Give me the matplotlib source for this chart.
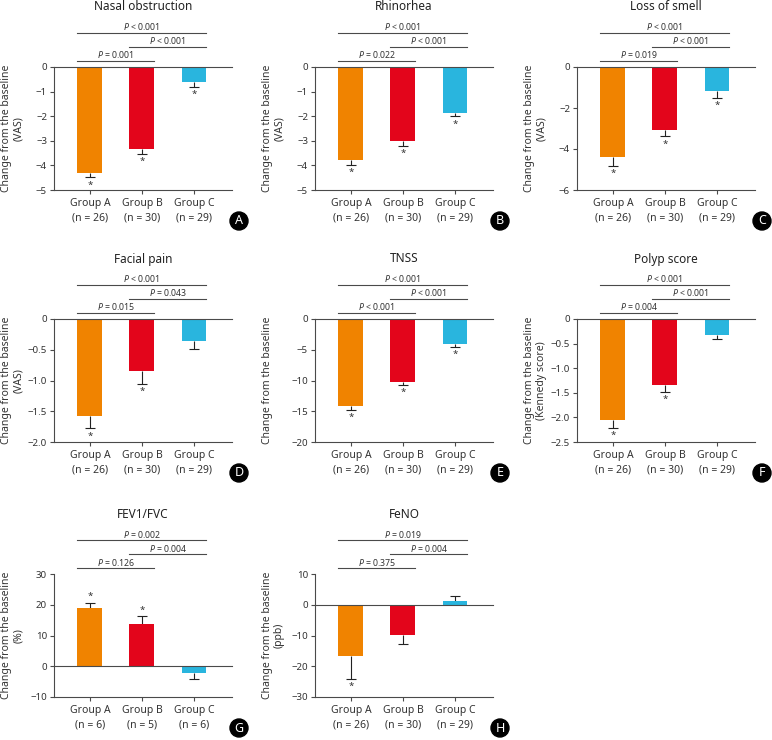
import matplotlib

matplotlib.use("Agg")

import matplotlib.pyplot as plt
import numpy as np
from matplotlib import transforms
from matplotlib.patches import Ellipse

plt.rcParams["font.family"] = ["Noto Sans", "DejaVu Sans"]
plt.rcParams["mathtext.fontset"] = "custom"
plt.rcParams["mathtext.rm"] = "Noto Sans"
plt.rcParams["mathtext.it"] = "Noto Sans:italic"

# ---- data ----
GROUPS = ["Group A", "Group B", "Group C"]
GROUP_COLORS = ["#F08300", "#E3051B", "#29B5DE"]
N_MAIN = [26, 30, 29]
N_FEV = [6, 5, 6]

TITLES = [
    "Nasal obstruction", "Rhinorhea", "Loss of smell",
    "Facial pain", "TNSS", "Polyp score",
    "FEV1/FVC", "FeNO",
]
LETTERS = ["A", "B", "C", "D", "E", "F", "G", "H"]
UNITS = ["VAS", "VAS", "VAS", "VAS", None, "Kennedy score", "%", "ppb"]

MEANS = [
    [-4.32, -3.34, -0.63],
    [-3.78, -2.99, -1.85],
    [-4.39, -3.06, -1.15],
    [-1.57, -0.845, -0.35],
    [-14.1, -10.24, -4.12],
    [-2.05, -1.34, -0.325],
    [18.97, 13.7, -2.3],
    [-16.7, -9.8, 1.3],
]
SEMS = [
    [0.17, 0.19, 0.19],
    [0.19, 0.21, 0.16],
    [0.44, 0.33, 0.34],
    [0.21, 0.205, 0.14],
    [0.64, 0.55, 0.43],
    [0.17, 0.14, 0.085],
    [1.63, 2.5, 1.95],
    [7.3, 3.1, 1.5],
]
STARS = [
    [1, 1, 1], [1, 1, 1], [1, 1, 1],
    [1, 1, 0], [1, 1, 1], [1, 1, 0],
    [1, 1, 0], [1, 0, 0],
]
# comparisons: A vs B, B vs C, A vs C
P_TEXTS = [
    ["= 0.001", "< 0.001", "< 0.001"],
    ["= 0.022", "< 0.001", "< 0.001"],
    ["= 0.019", "< 0.001", "< 0.001"],
    ["= 0.015", "= 0.043", "< 0.001"],
    ["< 0.001", "< 0.001", "< 0.001"],
    ["= 0.004", "< 0.001", "< 0.001"],
    ["= 0.126", "= 0.004", "= 0.002"],
    ["= 0.375", "= 0.004", "= 0.019"],
]
YLIMS = [
    (-5, 0), (-5, 0), (-6, 0),
    (-2, 0), (-20, 0), (-2.5, 0),
    (-10, 30), (-30, 10),
]
YTICKS = [
    [0, -1, -2, -3, -4, -5],
    [0, -1, -2, -3, -4, -5],
    [0, -2, -4, -6],
    [0, -0.5, -1.0, -1.5, -2.0],
    [0, -5, -10, -15, -20],
    [0, -0.5, -1.0, -1.5, -2.0, -2.5],
    [30, 20, 10, 0, -10],
    [10, 0, -10, -20, -30],
]
YTICK_LABELS = [
    ["0", "−1", "−2", "−3", "−4", "−5"],
    ["0", "−1", "−2", "−3", "−4", "−5"],
    ["0", "−2", "−4", "−6"],
    ["0", "−0.5", "−1.0", "−1.5", "−2.0"],
    ["0", "−5", "−10", "−15", "−20"],
    ["0", "−0.5", "−1.0", "−1.5", "−2.0", "−2.5"],
    ["30", "20", "10", "0", "−10"],
    ["10", "0", "−10", "−20", "−30"],
]

# ---- layout (pixels) ----
FIG_W, FIG_H = 772, 740
COL_LEFT = [54, 315, 577]
ROW_TOP = [67, 319, 574]
AX_W, AX_H = 178, 123
BAR_W = 0.48
CAP = 0.1
LINE = "#4a4a4a"


def px_offset(ax, transform, dy):
    return transforms.offset_copy(transform, fig=ax.figure, y=dy, units="dots")


def draw_panel(fig, index):
    row, col = divmod(index, 3)
    left = COL_LEFT[col] / FIG_W
    bottom = 1 - (ROW_TOP[row] + AX_H) / FIG_H
    ax = fig.add_axes([left, bottom, AX_W / FIG_W, AX_H / FIG_H])

    x = np.arange(len(GROUPS))
    means = np.array(MEANS[index])
    sems = np.array(SEMS[index])
    ends = means + np.sign(means) * sems

    ax.bar(x, means, width=BAR_W, color=GROUP_COLORS, zorder=2)
    ax.vlines(x, means, ends, color="#222222", lw=0.8, zorder=1)
    ax.hlines(ends, x - CAP, x + CAP, color="#222222", lw=0.8, zorder=1)

    for xi, end, mean, star in zip(x, ends, means, STARS[index]):
        if not star:
            continue
        up = mean > 0
        ax.annotate(
            "*",
            xy=(xi, end),
            xytext=(0, 2 if up else -3),
            textcoords="offset pixels",
            ha="center",
            va="bottom" if up else "top",
            fontsize=7,
            color="#333333",
        )

    ax.axhline(0, color=LINE, lw=0.8, zorder=3, clip_on=False)
    ax.set_xlim(-0.69, 2.73)
    ax.set_ylim(*YLIMS[index])
    ax.set_yticks(YTICKS[index], labels=YTICK_LABELS[index])

    counts = N_FEV if index == 6 else N_MAIN
    ax.set_xticks(
        x, labels=[f"{g}\n(n = {n})" for g, n in zip(GROUPS, counts)]
    )
    ax.tick_params(
        axis="both", direction="out", length=3, width=0.8, color=LINE,
        labelcolor="#333333", labelsize=7, pad=2,
    )
    ax.tick_params(axis="x", labelsize=7.5, pad=3)
    for label in ax.get_xticklabels():
        label.set_linespacing(1.45)

    for side in ("top", "right"):
        ax.spines[side].set_visible(False)
    for side in ("left", "bottom"):
        ax.spines[side].set_color(LINE)
        ax.spines[side].set_linewidth(0.8)

    unit = UNITS[index]
    ylabel = "Change from the baseline"
    if unit is not None:
        ylabel += f"\n({unit})"
    ax.set_ylabel(ylabel, fontsize=7.5, color="#333333", linespacing=1.15)
    ax.yaxis.set_label_coords(-0.17 if unit else -0.235, 0.5)

    ax.text(
        0.5, 1, TITLES[index],
        transform=px_offset(ax, ax.transAxes, 60),
        ha="center", va="center", fontsize=8.5, color="#222222",
    )

    blend = transforms.blended_transform_factory(ax.transData, ax.transAxes)
    pairs = [(0, 1, 6), (1, 2, 20), (0, 2, 34)]
    for (a, b, dy), p_text in zip(pairs, P_TEXTS[index]):
        x0, x1 = a - BAR_W / 2, b + BAR_W / 2
        ax.plot(
            [x0, x1], [1, 1], color=LINE, lw=0.8,
            transform=px_offset(ax, blend, dy), clip_on=False,
        )
        ax.text(
            (x0 + x1) / 2, 1, f"$P$ {p_text}",
            transform=px_offset(ax, blend, dy + 6),
            ha="center", va="center", fontsize=6.3, color="#333333",
        )

    cx = (COL_LEFT[col] + AX_W + 7) / FIG_W
    cy = 1 - (ROW_TOP[row] + AX_H + 31) / FIG_H
    fig.add_artist(
        Ellipse((cx, cy), 18 / FIG_W, 18 / FIG_H,
                transform=fig.transFigure, color="black")
    )
    fig.text(cx, cy, LETTERS[index], ha="center", va="center",
             color="white", fontsize=9, fontweight="bold")


def main():
    fig = plt.figure(figsize=(FIG_W / 100, FIG_H / 100), dpi=100)
    for index in range(len(TITLES)):
        draw_panel(fig, index)
    fig.savefig("out.png", dpi=100)


if __name__ == "__main__":
    main()
